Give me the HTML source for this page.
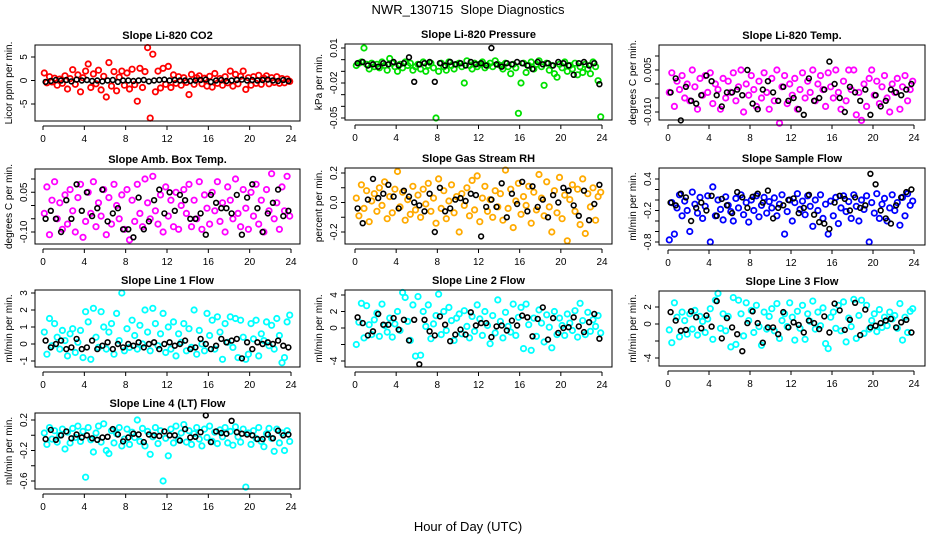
<!DOCTYPE html>
<html><head><meta charset="utf-8"><style>
html,body{margin:0;padding:0;background:#fff;}
svg{display:block;font-family:"Liberation Sans",sans-serif;}
</style></head><body>
<svg id="chart" width="936" height="540" viewBox="0 0 936 540" xmlns="http://www.w3.org/2000/svg">
<rect width="936" height="540" fill="#fff"/>
<text x="468" y="14" font-size="13" text-anchor="middle">NWR_130715&#160; Slope Diagnostics</text>
<text x="468" y="531" font-size="13" text-anchor="middle">Hour of Day (UTC)</text>
</svg>
<script>
// ---- data (colored: all samples, black: hourly-ish summary points) ----
const xTicks = [0,4,8,12,16,20,24];
const co2 = [1.6,-0.5,0.8,-0.3,0.5,-1.0,0.3,-0.6, 1.0,-1.8,0.4,2.3,-0.8,1.2,-2.4,0.6, 2.0,3.5,-1.5,1.4,-0.7,2.2,-2.0,0.9, -3.5,3.8,-1.2,1.9,-2.2,0.7,2.0,-1.0, 1.6,-1.8,2.4,-0.9,-4.4,2.6,-1.5,1.9, 7.0,-8.0,5.6,-2.4,2.0,-1.6,2.6,-0.8, 3.0,-1.5,1.2,-0.6,0.8,-1.0,0.6,-0.4, -3.0,1.3,-0.8,0.6,1.0,-0.7,0.5,-1.2, 0.9,-1.4,1.5,-0.6,0.4,-1.0,0.8,-0.5, 2.0,-1.2,1.3,-0.7,0.9,2.0,-1.9,0.6, -1.0,0.8,-0.6,1.1,-0.8,0.5,1.0,-0.7, 0.6,-0.4,0.8,-0.6,0.4,-0.5,0.3,-0.2];
const co2Black = [-0.3,-0.1,0.1,0,0.1,-0.2,0.2,0, 0.1,-0.1,0,-0.2,0,0.1,-0.3,0, 0,-0.1,0,0.1,-0.2,0,0.1,0.2, 0,0.1,0,0,-0.1,0,0.1,0.2, -0.3,0,0.1,-0.1,0,0.1,0.2,0, 0.1,0,0.1,0.2,0,-0.1,0.1,-0.1];
const pres = [-0.005,-0.003,-0.002,0.010,-0.004,-0.008,-0.003,-0.006, -0.004,-0.007,-0.002,-0.005,-0.009,0.001,-0.003,-0.006, -0.010,-0.004,-0.007,-0.002,-0.005,-0.003,-0.009,-0.006, -0.004,-0.008,-0.002,-0.010,-0.005,-0.003,-0.007,-0.050, -0.010,-0.003,-0.006,-0.009,-0.002,-0.005,-0.008,-0.004, -0.003,-0.006,-0.020,-0.001,-0.005,-0.008,-0.003,-0.006, -0.004,-0.002,-0.007,-0.005,-0.003,-0.006,-0.001,-0.004, -0.005,-0.008,-0.003,-0.006,-0.012,-0.004,-0.007,-0.046, -0.020,-0.003,-0.011,-0.005,-0.002,-0.008,-0.004,-0.001, -0.006,-0.022,-0.003,-0.009,-0.005,-0.012,-0.015,-0.004, -0.007,-0.002,-0.010,-0.005,-0.008,-0.003,-0.013,-0.006, -0.011,-0.004,-0.008,-0.012,-0.002,-0.006,-0.018,-0.049];
const presBlack = [-0.003,-0.002,-0.005,-0.004,-0.006,-0.003,-0.004,-0.002, -0.005,-0.003,0.002,-0.019,-0.004,-0.003,-0.002,-0.019, -0.003,-0.005,-0.002,-0.004,-0.003,-0.005,-0.002,-0.004, -0.003,-0.005,0.010,-0.004,-0.006,-0.003,-0.004,-0.002, -0.003,-0.005,-0.008,-0.002,-0.004,-0.003,-0.005,-0.002, -0.003,-0.005,-0.013,-0.003,-0.002,-0.005,-0.003,-0.021];
const temp = [-0.003,0.004,-0.008,0.001,-0.002,0.003,-0.005,0.000, -0.006,0.005,-0.001,-0.009,0.002,-0.004,0.003,-0.003, 0.004,-0.007,0.000,-0.002,-0.009,0.002,-0.005,0.001, -0.003,0.004,-0.006,-0.001,0.005,-0.010,0.000,-0.004, 0.003,-0.002,-0.008,0.001,-0.005,0.004,-0.003,-0.009, 0.002,-0.006,0.005,-0.014,-0.001,0.003,-0.007,0.000, -0.004,0.002,-0.009,-0.002,0.004,-0.005,0.001,-0.003, 0.005,-0.006,0.000,0.003,-0.002,-0.008,0.004,-0.001, -0.005,0.005,-0.003,-0.009,0.001,-0.006,0.005,-0.002, 0.005,-0.011,-0.003,-0.013,0.000,-0.008,0.002,0.005, -0.004,0.001,-0.007,-0.001,0.003,-0.005,-0.010,0.000, -0.003,0.002,-0.009,-0.001,0.003,-0.006,-0.002,0.001];
const tempBlack = [-0.003,0.002,-0.013,-0.001,-0.006,-0.007,-0.004,0.003, 0.001,-0.004,-0.008,-0.003,-0.003,-0.002,-0.004,0.005, -0.007,-0.009,-0.002,0.001,-0.003,-0.006,-0.001,-0.006, -0.005,-0.009,-0.011,0.002,-0.006,-0.005,-0.002,0.008, 0.000,-0.005,-0.010,-0.001,-0.003,-0.006,-0.002,-0.011, -0.004,-0.008,-0.006,-0.002,-0.003,-0.004,-0.002,0.000];
const amb = [-0.03,0.07,-0.11,0.02,0.09,-0.05,0.01,-0.09, 0.04,-0.07,0.06,-0.02,-0.10,0.03,0.08,-0.12, -0.06,0.05,-0.03,0.09,-0.08,0.01,-0.04,0.06, -0.11,0.03,-0.07,0.08,0.00,-0.05,0.04,-0.09, 0.06,-0.13,0.02,-0.06,0.08,-0.03,-0.08,0.10, 0.01,-0.05,0.11,-0.02,-0.07,0.04,-0.10,0.07, -0.04,0.02,-0.08,0.05,-0.09,0.00,0.06,-0.03, 0.08,-0.08,0.02,-0.05,0.09,-0.09,0.04,-0.01, -0.07,0.05,-0.02,0.09,-0.06,0.01,-0.10,0.07, 0.02,-0.05,0.10,-0.03,-0.08,0.06,-0.01,-0.09, 0.05,-0.04,0.08,-0.07,0.02,-0.10,0.06,-0.02, 0.12,-0.05,0.01,-0.09,0.07,-0.02,0.11,-0.04];
const ambBlack = [-0.05,-0.02,-0.05,-0.10,0.02,-0.05,0.08,-0.02, 0.05,-0.04,-0.01,0.06,-0.06,-0.03,-0.01,-0.09, -0.09,-0.12,0.03,-0.09,-0.06,0.02,0.06,-0.03, 0.05,-0.02,0.04,0.02,-0.05,-0.05,-0.03,-0.11, 0.04,0.01,-0.01,-0.01,-0.03,0.04,-0.11,0.03, 0.08,-0.01,-0.10,-0.03,0.01,0.06,-0.04,-0.02];
const rh = [0.03,-0.09,0.12,-0.04,0.08,-0.13,0.01,0.06, -0.06,0.10,-0.02,0.14,-0.11,0.04,-0.07,0.09, 0.21,-0.03,0.07,-0.12,0.02,-0.08,0.11,-0.05, 0.05,-0.10,0.09,-0.01,0.13,-0.06,0.03,-0.14, 0.16,-0.04,0.08,-0.11,0.01,0.12,-0.07,0.04, -0.20,0.06,-0.02,0.10,-0.09,0.15,-0.05,0.18, -0.13,0.03,0.11,-0.06,0.02,-0.10,0.08,-0.03, 0.06,-0.12,0.22,-0.04,0.09,-0.17,0.01,0.13, -0.08,0.04,-0.02,0.11,-0.14,0.07,-0.05,0.19, 0.03,-0.09,0.14,-0.03,-0.20,0.08,-0.07,0.17, -0.11,0.05,-0.26,0.02,0.12,-0.06,0.09,-0.15, 0.16,-0.21,0.06,-0.03,0.10,-0.12,0.04,0.07];
const rhBlack = [-0.04,-0.14,0.02,0.16,0.03,0.06,0.12,0.04, -0.04,0.08,0.04,0.00,-0.02,-0.06,0.06,-0.20, 0.10,-0.06,-0.04,0.02,0.03,0.01,0.06,0.05, -0.23,-0.03,0.02,-0.03,0.13,-0.10,0.06,-0.01, 0.14,-0.06,0.11,-0.03,0.02,-0.10,0.05,0.00, 0.10,0.08,-0.02,-0.09,0.08,-0.12,-0.01,0.12];
const flow = [-0.76,-0.05,-0.65,-0.15,0.10,-0.30,-0.02,-0.20, -0.60,0.15,-0.08,-0.25,0.05,-0.35,-0.12,0.08, -0.80,0.25,-0.30,0.00,-0.18,-0.38,0.06,-0.10, -0.22,-0.40,0.03,-0.15,0.10,-0.28,-0.05,-0.42, 0.00,-0.20,0.08,-0.32,-0.10,0.05,-0.25,-0.03, -0.15,0.04,-0.30,-0.08,0.10,-0.65,-0.22,0.00, -0.40,-0.05,0.12,-0.18,-0.02,-0.28,0.08,-0.12, -0.50,0.00,-0.20,0.10,-0.35,-0.08,-0.65,-0.02, -0.30,0.05,-0.45,-0.15,0.08,-0.22,-0.03,-0.35, 0.10,-0.12,-0.40,0.00,-0.18,0.08,-0.80,-0.05, -0.25,0.12,-0.35,-0.08,0.03,-0.40,-0.15,0.10, -0.20,-0.05,-0.48,0.05,-0.30,0.12,-0.10,-0.02];
const flowBlack = [-0.05,-0.10,0.12,0.05,-0.40,-0.15,-0.05,-0.20, 0.08,-0.30,0.02,-0.10,-0.25,0.15,0.05,-0.15, 0.06,0.12,-0.05,0.18,-0.35,-0.15,-0.10,0.00, 0.03,-0.25,-0.15,0.10,-0.28,-0.42,-0.45,-0.55, -0.05,0.08,0.02,-0.20,0.05,-0.15,-0.10,0.50, 0.30,-0.20,-0.35,-0.45,-0.10,0.05,0.15,0.20];
const line1 = [0.7,-0.6,1.5,-0.1,1.2,0.4,-0.3,0.8, 0.2,-0.7,0.6,0.9,-0.5,0.1,0.8,-0.8, 1.9,1.3,-0.9,2.1,0.4,-0.2,1.9,1.0, -0.3,0.7,1.2,-0.6,1.8,0.2,3.0,-0.4, 0.9,-0.2,1.4,0.5,-0.3,1.1,0.0,2.0, 0.7,-0.4,2.1,1.2,-0.1,0.6,1.8,-0.5, 1.0,-0.3,1.3,-0.7,0.6,0.1,1.2,-0.4, 0.9,-0.2,2.0,-0.6,0.8,0.0,-0.4,1.8, 0.5,1.4,-0.3,1.6,0.7,-0.9,1.2,0.1, 1.6,-0.2,1.5,-0.8,1.4,0.4,-0.9,-0.6, 1.2,0.3,1.4,-0.7,0.6,0.2,1.3,-0.1, 1.1,-0.3,1.5,0.5,-1.1,-0.8,1.3,1.7];
const line1Black = [0.2,-0.2,0.0,0.2,-0.3,-0.2,0.3,-0.3, -0.2,0.2,-0.3,-0.1,0.1,-0.3,0.0,-0.2, 0.0,-0.1,0.1,-0.2,0.0,0.1,-0.3,0.0, 0.1,-0.1,0.0,0.2,-0.3,-0.2,0.3,0.0, -0.3,-0.1,0.3,0.1,0.2,0.3,-0.85,0.1, -0.3,0.1,0.0,0.1,0.0,0.2,-0.1,-0.2];
const line2 = [-2.0,0.7,3.0,-1.2,2.7,0.4,-0.8,1.0, 1.8,-1.0,2.9,0.3,-0.5,1.2,-1.1,0.5, 2.0,-0.3,4.3,3.7,0.8,-1.5,2.8,-3.4, 3.8,-3.3,2.0,0.2,2.8,-1.3,0.5,1.5, 4.1,-0.8,2.0,-0.3,2.5,0.9,-1.5,1.2, 1.7,-0.7,2.1,0.2,-1.2,1.4,-0.4,2.8, 1.1,-0.9,2.0,0.3,-1.9,1.5,-0.6,3.4, 0.8,-1.2,1.9,0.2,-0.5,2.9,-0.9,1.3, 2.5,-2.5,2.9,0.4,-2.7,1.2,-1.0,2.2, 0.6,-1.7,1.6,0.1,-2.4,2.0,-0.8,1.2, 0.3,-0.9,1.7,0.6,-0.3,2.1,-1.1,3.0, 0.9,-0.8,1.9,-0.4,1.0,0.2,1.5,-0.6];
const line2Black = [1.3,0.6,-0.9,-0.4,1.7,0.4,0.4,1.2, -0.2,1.0,-1.5,1.0,-4.4,1.0,-0.4,-0.9, 1.4,0.4,-1.6,-0.8,-0.2,-0.8,1.9,0.3, 0.6,0.6,-1.1,0.2,0.3,-0.3,0.9,0.3, 1.5,1.3,-1.0,1.1,2.5,-1.4,1.2,-0.6, 0.0,0.1,1.3,0.2,-0.5,0.7,1.7,-1.3];
const line3 = [-0.7,-2.2,2.5,0.8,-1.5,1.4,0.4,-1.2, 1.2,-0.6,1.6,-1.3,0.9,0.3,-1.0,0.6, 1.8,-1.8,2.8,3.6,-0.5,1.2,-0.8,0.9, -2.7,3.1,-2.4,2.8,1.2,-1.4,2.5,0.4, 1.6,-1.0,2.2,-0.3,-2.5,1.4,-0.6,0.9, 1.8,-0.8,2.4,-1.7,0.4,1.2,-0.3,2.5, 0.8,-1.9,1.5,-0.5,2.2,-1.8,1.2,0.3, 2.7,-0.6,1.4,-0.2,1.9,-2.3,-2.9,0.8, 1.4,-0.5,2.2,-0.8,2.6,-2.1,0.7,-0.3, 2.9,-1.7,1.0,2.8,-1.1,2.2,-0.6,0.4, 1.2,-0.9,1.7,-0.4,0.8,-0.2,1.4,0.6, 1.0,-0.5,2.4,-1.9,0.8,-1.0,1.5,1.8];
const line3Black = [1.4,0.4,-0.8,-0.7,1.5,0.8,-0.5,1.0, -0.3,2.7,-1.7,0.7,-0.4,-1.2,-3.2,0.1, 1.5,0.1,-2.2,-0.4,-0.4,-1.2,1.4,-0.4, 0.2,-0.1,-1.0,0.4,0.1,-0.6,0.9,-1.0, 2.4,1.6,-0.7,0.5,2.5,-1.3,1.7,-0.4, -0.2,0.1,0.4,0.6,-0.4,0.2,0.5,-1.0];
const line4 = [0.03,-0.12,0.10,-0.05,0.06,-0.09,0.00,0.08, -0.18,0.04,-0.10,0.09,-0.03,0.12,-0.08,0.05, -0.55,0.10,-0.06,-0.22,0.03,0.12,-0.09,0.15, -0.20,-0.24,0.06,-0.10,0.02,0.10,-0.14,-0.05, 0.08,-0.12,0.04,-0.03,0.20,-0.08,0.09,-0.14, 0.05,-0.25,-0.02,0.10,-0.11,0.06,-0.60,-0.04, -0.27,0.08,-0.10,0.12,-0.06,0.03,0.14,-0.09, 0.06,-0.12,0.02,0.10,-0.05,-0.14,0.08,-0.03, 0.12,-0.08,0.04,-0.11,0.07,-0.02,0.10,-0.10, 0.05,-0.13,0.11,-0.02,-0.09,0.08,-0.68,0.03, -0.12,0.06,-0.04,0.10,-0.08,-0.15,0.02,0.09, -0.04,-0.21,0.08,-0.10,0.03,-0.20,0.06,-0.08];
const line4Black = [-0.05,0.07,-0.06,0.00,0.05,-0.04,0.01,-0.03, 0.00,-0.04,-0.06,-0.03,-0.02,0.08,0.01,-0.08, -0.03,0.02,0.01,-0.09,0.01,0.00,-0.01,0.05, 0.00,0.00,-0.07,0.08,-0.03,-0.02,0.04,0.26, -0.09,0.05,0.03,0.02,0.19,0.04,0.02,0.01, 0.00,-0.05,-0.05,0.01,-0.04,0.06,0.00,0.01];
const co2Ticks=[5,0,-5], co2Labels=[5,0,-5];
const presTicks=[0.01,0,-0.01,-0.02,-0.03,-0.04,-0.05], presLabels=["0.01",null,null,"-0.02",null,null,"-0.05"];
const tempTicks=[0.01,0.005,0,-0.005,-0.01], tempLabels=[null,"0.005",null,null,"-0.010"];
const ambTicks=[0.1,0.05,0,-0.05,-0.1], ambLabels=[null,"0.05",null,null,"-0.10"];
const rhTicks=[0.2,0.1,0,-0.1,-0.2], rhLabels=["0.2",null,"0.0",null,"-0.2"];
const flowTicks=[0.4,0.2,0,-0.2,-0.4,-0.6,-0.8], flowLabels=["0.4",null,null,"-0.2",null,null,"-0.8"];
const l1Ticks=[3,2,1,0,-1], l1Labels=["3","2","1","0","-1"];
const l2Ticks=[4,2,0,-2,-4], l2Labels=["4","2","0",null,"-4"];
const l3Ticks=[2,0,-2,-4], l3Labels=["2","0",null,"-4"];
const l4Ticks=[0.2,0,-0.2,-0.4,-0.6], l4Labels=["0.2",null,"-0.2",null,"-0.6"];

// ---- layout ----
const panels = [
 {name:'co2',title:'Slope Li-820 CO2',ylab:'Licor ppm per min.',L:35,R:300,T:45,B:121,x0:43,x1:291,v0:5,p0:57,v1:-5,p1:104,col:'#ff0000',d:co2,k:co2Black,t:co2Ticks,l:co2Labels},
 {name:'pressure',title:'Slope Li-820 Pressure',ylab:'kPa per min.',L:345,R:612,T:44,B:120,x0:355,x1:602,v0:0.01,p0:48,v1:-0.05,p1:118,col:'#00e000',d:pres,k:presBlack,t:presTicks,l:presLabels},
 {name:'temp',title:'Slope Li-820 Temp.',ylab:'degrees C per min.',L:659,R:925,T:45,B:120,x0:668,x1:914,v0:0.01,p0:56,v1:-0.01,p1:112,col:'#ff00ff',d:temp,k:tempBlack,t:tempTicks,l:tempLabels},
 {name:'amb-box-temp',title:'Slope Amb. Box Temp.',ylab:'degrees C per min.',L:35,R:300,T:169,B:244,x0:43,x1:291,v0:0.1,p0:179,v1:-0.1,p1:232,col:'#ff00ff',d:amb,k:ambBlack,t:ambTicks,l:ambLabels},
 {name:'gas-rh',title:'Slope Gas Stream RH',ylab:'percent per min.',L:345,R:612,T:168,B:244,x0:355,x1:602,v0:0.2,p0:173,v1:-0.2,p1:232,col:'#ffaa00',d:rh,k:rhBlack,t:rhTicks,l:rhLabels},
 {name:'sample-flow',title:'Slope Sample Flow',ylab:'ml/min per min.',L:659,R:925,T:168,B:245,x0:668,x1:914,v0:0.4,p0:179,v1:-0.8,p1:242,col:'#0000ff',d:flow,k:flowBlack,t:flowTicks,l:flowLabels},
 {name:'line1-flow',title:'Slope Line 1 Flow',ylab:'ml/min per min.',L:35,R:300,T:290,B:367,x0:43,x1:291,v0:3,p0:293,v1:-1,p1:361,col:'#00ffff',d:line1,k:line1Black,t:l1Ticks,l:l1Labels},
 {name:'line2-flow',title:'Slope Line 2 Flow',ylab:'ml/min per min.',L:345,R:612,T:290,B:367,x0:355,x1:602,v0:4,p0:295,v1:-4,p1:361,col:'#00ffff',d:line2,k:line2Black,t:l2Ticks,l:l2Labels},
 {name:'line3-flow',title:'Slope Line 3 Flow',ylab:'ml/min per min.',L:659,R:925,T:291,B:366,x0:668,x1:914,v0:2,p0:307,v1:-4,p1:358,col:'#00ffff',d:line3,k:line3Black,t:l3Ticks,l:l3Labels},
 {name:'line4-flow',title:'Slope Line 4 (LT) Flow',ylab:'ml/min per min.',L:35,R:300,T:413,B:489,x0:43,x1:291,v0:0.2,p0:420,v1:-0.6,p1:481,col:'#00ffff',d:line4,k:line4Black,t:l4Ticks,l:l4Labels}
];
const NS='http://www.w3.org/2000/svg';
const svg=document.getElementById('chart');
function mk(tag,attrs,parent){const e=document.createElementNS(NS,tag);for(const a in attrs)e.setAttribute(a,attrs[a]);parent.appendChild(e);return e;}
panels.forEach(p=>{
 const g=mk('g',{},svg);
 
 
 const xs=h=>p.x0+(h/24)*(p.x1-p.x0);
 const ys=v=>p.p0+(v-p.v0)*(p.p1-p.p0)/(p.v1-p.v0);
 const ttl=mk('text',{x:(p.L+p.R)/2,y:p.T-6,'font-size':11,'font-weight':'bold','text-anchor':'middle'},g);
 ttl.textContent=p.title;
 
 
 const yl=mk('text',{x:0,y:0,'font-size':10,'text-anchor':'middle',transform:`translate(${p.L-23},${(p.T+p.B)/2}) rotate(-90)`},g);
 yl.textContent=p.ylab;
 
 
 const n=p.d.length;
 p.d.forEach((v,i)=>{const h=(i+0.5)*24/n;
  const c=mk('circle',{cx:xs(h).toFixed(1),cy:ys(v).toFixed(1),r:2.7,fill:'none',stroke:p.col,'stroke-width':1.8},g);
  
  });
 const m=p.k.length;
 p.k.forEach((v,i)=>{const h=(i+0.5)*24/m;
  const c=mk('circle',{cx:xs(h).toFixed(1),cy:ys(v).toFixed(1),r:2.4,fill:'none',stroke:'#000','stroke-width':1.6},g);
  
  });
 const box=mk('rect',{x:p.L,y:p.T,width:p.R-p.L,height:p.B-p.T,fill:'none',stroke:'#000','stroke-width':1},g);
 
 
 const ay=p.B+5;
 const xa=mk('line',{x1:xs(0),x2:xs(24),y1:ay,y2:ay,stroke:'#000'},g);
 
 
 xTicks.forEach(t=>{mk('line',{x1:xs(t),x2:xs(t),y1:ay,y2:ay+4,stroke:'#000'},g);
  const tl=mk('text',{x:xs(t),y:ay+16,'font-size':10,'text-anchor':'middle'},g);tl.textContent=t;
  
  });
 p.t.forEach((t,i)=>{const y=ys(t);mk('line',{x1:p.L-4,x2:p.L,y1:y,y2:y,stroke:'#000'},g);
  if(p.l[i]!==null){const tl=mk('text',{x:0,y:0,'font-size':10,'text-anchor':'middle',transform:`translate(${p.L-8},${y}) rotate(-90)`},g);tl.textContent=String(p.l[i]);
  
  }});
});
</script>
</body></html>
